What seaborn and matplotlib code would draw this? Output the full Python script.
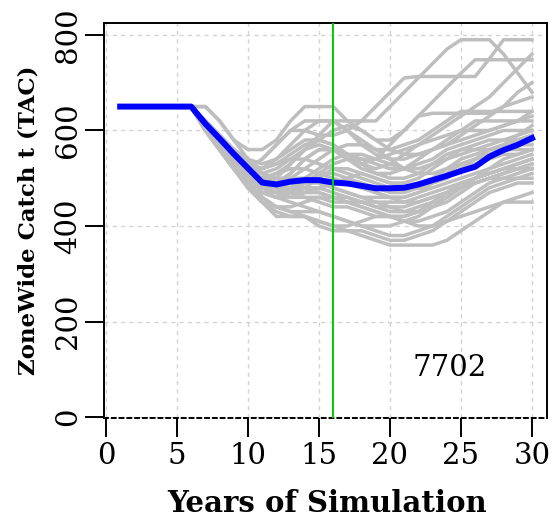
import matplotlib
matplotlib.use("Agg")
import matplotlib.pyplot as plt
import seaborn as sns
import pandas as pd

years = list(range(1, 31))

median_tac = [650, 650, 650, 650, 650, 650, 614, 583, 551, 521, 491, 487, 493, 496, 496,
              491, 489, 484, 479, 479, 480, 487, 496, 505, 515, 524, 545, 559, 570, 584]

sim_d1 = [650, 650, 650, 650, 650, 650, 650, 620, 580, 560, 560, 580, 620, 650, 650, 650, 620, 620, 620, 650, 680, 710, 740, 770, 790, 790, 790, 760, 720, 680]
sim_d2 = [650, 650, 650, 650, 650, 650, 620, 580, 540, 520, 540, 570, 600, 600, 590, 590, 600, 620, 650, 680, 710, 713, 713, 713, 713, 713, 750, 790, 790, 790]
sim_d3 = [650, 650, 650, 650, 650, 650, 620, 580, 540, 510, 500, 510, 530, 560, 590, 620, 620, 600, 580, 580, 600, 630, 660, 690, 720, 748, 748, 748, 748, 748]
sim_d4 = [650, 650, 650, 650, 650, 650, 610, 570, 530, 500, 490, 500, 530, 560, 570, 560, 540, 530, 540, 570, 600, 630, 636, 636, 636, 636, 636, 650, 680, 700]
sim_d5 = [650, 650, 650, 650, 650, 650, 620, 590, 560, 530, 520, 540, 570, 600, 620, 620, 600, 580, 560, 560, 570, 580, 600, 620, 640, 640, 640, 640, 640, 640]
sim_d6 = [650, 650, 650, 650, 650, 650, 620, 580, 540, 510, 490, 490, 510, 540, 560, 560, 550, 530, 520, 530, 550, 570, 590, 610, 630, 650, 670, 700, 730, 760]
sim_b1 = [650, 650, 650, 650, 650, 650, 620, 580, 540, 520, 540, 570, 600, 620, 620, 620, 600, 570, 550, 540, 540, 550, 560, 570, 580, 590, 600, 610, 620, 640]
sim_c1 = [650, 650, 650, 650, 650, 650, 610, 570, 530, 500, 480, 490, 510, 540, 560, 560, 540, 520, 510, 510, 520, 540, 560, 580, 600, 620, 620, 620, 620, 620]
sim_c2 = [650, 650, 650, 650, 650, 650, 620, 580, 540, 510, 490, 480, 480, 490, 510, 530, 540, 540, 530, 520, 520, 530, 540, 560, 570, 580, 590, 600, 600, 600]
sim_c3 = [650, 650, 650, 650, 650, 650, 610, 570, 530, 500, 480, 470, 470, 480, 500, 520, 520, 510, 500, 490, 490, 500, 520, 540, 560, 570, 580, 580, 580, 590]
sim_c4 = [650, 650, 650, 650, 650, 650, 620, 580, 550, 530, 520, 530, 540, 540, 530, 520, 510, 500, 490, 480, 480, 490, 500, 520, 540, 550, 560, 560, 570, 570]
sim_c5 = [650, 650, 650, 650, 650, 650, 600, 560, 520, 490, 470, 460, 470, 490, 510, 510, 500, 490, 480, 470, 470, 480, 490, 500, 520, 530, 540, 550, 550, 560]
sim_c6 = [650, 650, 650, 650, 650, 650, 620, 590, 560, 540, 530, 540, 560, 580, 580, 570, 550, 530, 510, 500, 500, 510, 530, 550, 560, 560, 560, 570, 590, 610]
sim_a1 = [650, 650, 650, 650, 650, 650, 610, 570, 530, 500, 480, 470, 460, 460, 450, 440, 440, 430, 420, 420, 420, 430, 440, 460, 480, 500, 510, 520, 530, 540]
sim_a2 = [650, 650, 650, 650, 650, 650, 600, 560, 520, 490, 470, 460, 450, 440, 430, 420, 410, 400, 400, 400, 410, 420, 440, 460, 480, 490, 500, 510, 520, 530]
sim_a3 = [650, 650, 650, 650, 650, 650, 610, 570, 530, 490, 460, 440, 430, 430, 430, 420, 410, 400, 390, 380, 380, 390, 400, 420, 440, 460, 480, 490, 500, 510]
sim_a4 = [650, 650, 650, 650, 650, 650, 600, 560, 520, 480, 450, 430, 420, 420, 410, 400, 390, 380, 370, 360, 360, 360, 360, 370, 390, 410, 430, 450, 460, 470]
sim_a5 = [650, 650, 650, 650, 650, 650, 600, 560, 520, 480, 450, 420, 420, 420, 400, 390, 390, 390, 380, 370, 370, 380, 390, 410, 420, 430, 440, 450, 450, 450]
sim_a6 = [650, 650, 650, 650, 650, 650, 610, 570, 530, 500, 480, 480, 470, 460, 460, 450, 450, 450, 440, 440, 440, 450, 460, 470, 480, 490, 500, 500, 500, 500]
sim_a7 = [650, 650, 650, 650, 650, 650, 620, 580, 540, 510, 490, 480, 480, 470, 470, 460, 460, 450, 450, 450, 450, 460, 470, 480, 490, 500, 510, 520, 530, 540]
sim_a8 = [650, 650, 650, 650, 650, 650, 600, 560, 520, 490, 470, 470, 480, 490, 490, 480, 470, 460, 450, 440, 430, 430, 440, 450, 470, 490, 500, 510, 520, 520]
sim_a9 = [650, 650, 650, 650, 650, 650, 610, 580, 550, 520, 500, 500, 500, 500, 490, 480, 470, 460, 460, 460, 460, 470, 480, 490, 500, 510, 520, 530, 540, 550]
sim_a10 = [650, 650, 650, 650, 650, 650, 600, 560, 520, 480, 450, 440, 440, 450, 460, 460, 450, 440, 430, 420, 410, 410, 420, 430, 450, 470, 490, 500, 510, 520]
sim_a11 = [650, 650, 650, 650, 650, 650, 610, 570, 530, 510, 500, 510, 520, 520, 510, 500, 490, 480, 470, 460, 460, 470, 490, 510, 530, 540, 550, 560, 560, 560]
sim_a12 = [650, 650, 650, 650, 650, 650, 620, 590, 560, 530, 510, 500, 490, 480, 470, 460, 450, 440, 430, 420, 420, 430, 450, 470, 490, 500, 510, 520, 520, 520]
sim_e1 = [650, 650, 650, 650, 650, 650, 620, 580, 550, 530, 520, 530, 550, 570, 580, 570, 550, 540, 540, 550, 560, 570, 580, 590, 600, 600, 600, 610, 620, 630]
sim_e2 = [650, 650, 650, 650, 650, 650, 610, 570, 530, 500, 480, 470, 480, 500, 520, 540, 550, 550, 540, 530, 520, 520, 530, 540, 550, 560, 570, 580, 590, 600]
sim_e3 = [650, 650, 650, 650, 650, 650, 600, 560, 520, 490, 470, 460, 460, 470, 480, 490, 490, 480, 470, 460, 450, 450, 460, 470, 480, 490, 500, 510, 520, 530]
sim_e4 = [650, 650, 650, 650, 650, 650, 620, 580, 540, 510, 490, 490, 500, 520, 540, 560, 570, 570, 560, 540, 520, 510, 510, 520, 530, 540, 550, 560, 570, 580]
sim_e5 = [650, 650, 650, 650, 650, 650, 650, 620, 580, 540, 510, 490, 480, 480, 480, 470, 460, 450, 440, 430, 430, 440, 450, 460, 480, 500, 520, 540, 550, 560]
sim_e6 = [650, 650, 650, 650, 650, 650, 600, 560, 520, 490, 460, 440, 430, 420, 410, 400, 400, 410, 420, 420, 410, 400, 400, 410, 430, 450, 470, 480, 490, 490]
sim_e7 = [650, 650, 650, 650, 650, 650, 610, 570, 540, 520, 510, 520, 540, 560, 580, 600, 610, 600, 580, 560, 550, 550, 560, 570, 590, 610, 630, 650, 660, 670]
sim_e8 = [650, 650, 650, 650, 650, 650, 620, 580, 540, 510, 490, 480, 470, 470, 480, 490, 500, 510, 500, 490, 480, 480, 490, 500, 520, 540, 560, 570, 580, 590]

sims = {
    "d1": sim_d1, "d2": sim_d2, "d3": sim_d3, "d4": sim_d4, "d5": sim_d5, "d6": sim_d6,
    "b1": sim_b1, "c1": sim_c1, "c2": sim_c2, "c3": sim_c3, "c4": sim_c4, "c5": sim_c5,
    "c6": sim_c6, "a1": sim_a1, "a2": sim_a2, "a3": sim_a3, "a4": sim_a4, "a5": sim_a5,
    "a6": sim_a6, "a7": sim_a7, "a8": sim_a8, "a9": sim_a9, "a10": sim_a10, "a11": sim_a11,
    "a12": sim_a12, "e1": sim_e1, "e2": sim_e2, "e3": sim_e3, "e4": sim_e4, "e5": sim_e5,
    "e6": sim_e6, "e7": sim_e7, "e8": sim_e8,
}

x_ticks = [0, 5, 10, 15, 20, 25, 30]
y_ticks = [0, 200, 400, 600, 800]
vline_year = 16
panel_label = "7702"
x_label = "Years of Simulation"
y_label = "ZoneWide Catch t (TAC)"

rows = []
for name, vals in sims.items():
    for yr, v in zip(years, vals):
        rows.append({"sim": name, "year": yr, "tac": v})
df = pd.DataFrame(rows)
med = pd.DataFrame({"year": years, "tac": median_tac})

SERIF = ["DejaVu Serif"]

fig = plt.figure(figsize=(5.52, 5.20), dpi=100)
ax = fig.add_axes([104 / 552, 1 - 418 / 520, (547 - 104) / 552, (418 - 23) / 520])

ax.set_axisbelow(True)
ax.grid(True, color="#D3D3D3", linestyle=(0, (3, 3)), linewidth=1.0)

sns.lineplot(data=df, x="year", y="tac", units="sim", estimator=None,
             color="#BEBEBE", linewidth=2.5, ax=ax, legend=False)
sns.lineplot(data=med, x="year", y="tac", color="#0000FF", linewidth=4.3,
             ax=ax, legend=False)
ax.axvline(vline_year, color="#00CD00", linewidth=1.4, zorder=5)

ax.set_xlim(-0.14, 31.06)
ax.set_ylim(-2, 825)
ax.set_xticks(x_ticks)
ax.set_yticks(y_ticks)
ax.set_xticklabels([str(t) for t in x_ticks], family=SERIF, fontsize=21)
ax.set_yticklabels([str(t) for t in y_ticks], family=SERIF, fontsize=21,
                   rotation=90, va="center")
ax.tick_params(axis="both", direction="out", length=14, width=1.4, color="black")
ax.tick_params(axis="x", pad=3)
ax.tick_params(axis="y", pad=2)
ax.set_xlabel("")
ax.set_ylabel("")

for side in ["left", "right", "top", "bottom"]:
    ax.spines[side].set_color("black")
    ax.spines[side].set_linewidth(1.4)
ax.spines["bottom"].set_linestyle((0, (2, 2)))

ax.text(24.2, 103, panel_label, family=SERIF, fontsize=21, ha="center", va="center")

fig.text(327 / 552, 1 - 504 / 520, x_label, family=SERIF, fontweight="bold",
         fontsize=21, ha="center", va="center")
fig.text(29 / 552, 1 - 220 / 520, y_label, family=SERIF, fontweight="bold",
         fontsize=16.5, ha="center", va="center", rotation=90)

fig.savefig("out.png", dpi=100)
